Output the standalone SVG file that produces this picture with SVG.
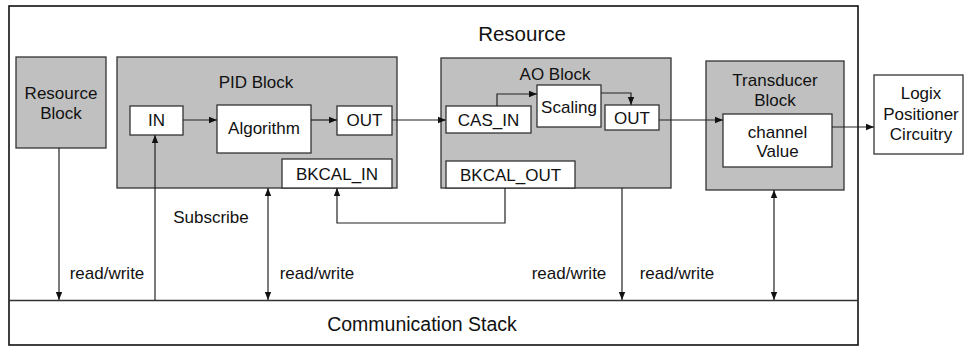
<svg xmlns="http://www.w3.org/2000/svg" width="964" height="346" viewBox="0 0 964 346">
<style>
text{font-family:"Liberation Sans",Arial,sans-serif;fill:#111;text-anchor:middle;dominant-baseline:central}
.t{font-size:17px}
.big{font-size:19.5px}
.ttl{font-size:20.5px}
.blk{fill:#c0c0c0;stroke:#333;stroke-width:1.3}
.box{fill:#fff;stroke:#333;stroke-width:1.3}
.ln{fill:none;stroke:#222;stroke-width:1.2}
</style>
<defs>
<marker id="ah" viewBox="0 0 10 10" refX="10" refY="5" markerWidth="8" markerHeight="8" markerUnits="userSpaceOnUse" orient="auto-start-reverse">
<path d="M0,1 L10,5 L0,9 z" fill="#111"/>
</marker>
</defs>
<g id="resource">
<rect x="9" y="6" width="849" height="339" fill="#fff" stroke="#111" stroke-width="1.6"/>
<text class="ttl" x="522" y="33">Resource</text>
</g>
<g id="comm-stack">
<line x1="9" y1="300.5" x2="858" y2="300.5" stroke="#333" stroke-width="1.4"/>
<text class="big" x="422" y="324">Communication Stack</text>
</g>
<g id="resource-block">
<rect class="blk" x="16" y="57" width="90" height="91"/>
<text class="t" x="61" y="93">Resource</text>
<text class="t" x="61" y="113">Block</text>
</g>
<g id="pid-block">
<rect class="blk" x="117" y="57" width="280" height="131"/>
<text class="t" x="256" y="82">PID Block</text>
</g>
<g id="in"><rect class="box" x="130" y="106" width="53" height="29"/><text class="t" x="156.5" y="120.5">IN</text></g>
<g id="algorithm"><rect class="box" x="217" y="105" width="94" height="48"/><text class="t" x="264" y="128">Algorithm</text></g>
<g id="pid-out"><rect class="box" x="337" y="106" width="55" height="29"/><text class="t" x="364.5" y="120.5">OUT</text></g>
<g id="bkcal-in"><rect class="box" x="282" y="159" width="110" height="29"/><text class="t" x="337" y="174">BKCAL_IN</text></g>
<g id="ao-block">
<rect class="blk" x="441" y="58" width="230" height="130"/>
<text class="t" x="555" y="74">AO Block</text>
</g>
<g id="cas-in"><rect class="box" x="446" y="106" width="85" height="27"/><text class="t" x="488.5" y="120">CAS_IN</text></g>
<g id="scaling"><rect class="box" x="537" y="85" width="64" height="42"/><text class="t" x="569" y="107">Scaling</text></g>
<g id="ao-out"><rect class="box" x="605" y="105" width="54" height="25"/><text class="t" x="632" y="118.5">OUT</text></g>
<g id="bkcal-out"><rect class="box" x="446" y="161" width="129" height="27"/><text class="t" x="510.5" y="175">BKCAL_OUT</text></g>
<g id="transducer-block">
<rect class="blk" x="706" y="61" width="138" height="129"/>
<text class="t" x="775" y="80">Transducer</text>
<text class="t" x="775" y="100">Block</text>
</g>
<g id="channel-value"><rect class="box" x="723" y="114" width="109" height="53"/><text class="t" x="777.5" y="132">channel</text><text class="t" x="777.5" y="151">Value</text></g>
<g id="logix">
<rect class="box" x="874" y="75" width="89" height="79"/>
<text class="t" x="921" y="93">Logix</text>
<text class="t" x="921" y="114">Positioner</text>
<text class="t" x="921" y="134">Circuitry</text>
</g>
<g id="connectors">
<line class="ln" x1="183" y1="120" x2="217" y2="120" marker-end="url(#ah)"/>
<line class="ln" x1="311" y1="120" x2="337" y2="120" marker-end="url(#ah)"/>
<line class="ln" x1="392" y1="120" x2="446" y2="120" marker-end="url(#ah)"/>
<polyline class="ln" points="497,106 497,94 537,94" marker-end="url(#ah)"/>
<polyline class="ln" points="601,93 631,93 631,105" marker-end="url(#ah)"/>
<line class="ln" x1="659" y1="120" x2="723" y2="120" marker-end="url(#ah)"/>
<line class="ln" x1="832" y1="127" x2="874" y2="127" marker-end="url(#ah)"/>
<line class="ln" x1="59" y1="148" x2="59" y2="300" marker-end="url(#ah)"/>
<line class="ln" x1="155" y1="300" x2="155" y2="135" marker-end="url(#ah)"/>
<line class="ln" x1="268" y1="188" x2="268" y2="300" marker-start="url(#ah)" marker-end="url(#ah)"/>
<polyline class="ln" points="505,188 505,223 337,223 337,188" marker-end="url(#ah)"/>
<line class="ln" x1="622" y1="188" x2="622" y2="300" marker-end="url(#ah)"/>
<line class="ln" x1="774" y1="190" x2="774" y2="300" stroke="#555" marker-start="url(#ah)" marker-end="url(#ah)"/>
<text class="t" x="211" y="217">Subscribe</text>
<text class="t" x="107" y="273">read/write</text>
<text class="t" x="317" y="273">read/write</text>
<text class="t" x="569" y="273">read/write</text>
<text class="t" x="677" y="273">read/write</text>
</g>
</svg>
